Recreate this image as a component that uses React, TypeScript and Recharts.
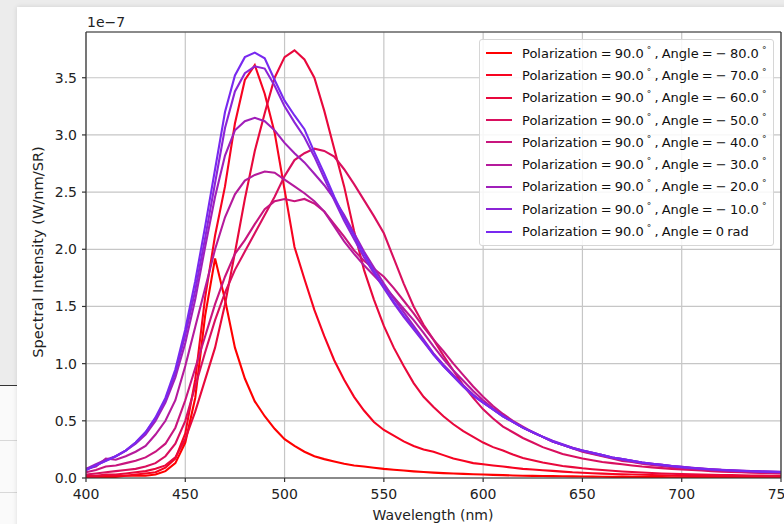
import { CartesianGrid, Line, LineChart, ReferenceLine, XAxis, YAxis } from "recharts";

// wavelength grid (nm)
const WL = [
  400, 405, 410, 415, 420, 425, 430, 435, 440, 445, 450, 455, 460, 465, 470, 475, 480, 485, 490, 495,
  500, 505, 510, 515, 520, 525, 530, 535, 540, 545, 550, 555, 560, 565, 570, 575, 580, 585, 590, 595,
  600, 605, 610, 615, 620, 625, 630, 635, 640, 645, 650, 655, 660, 665, 670, 675, 680, 685, 690, 695,
  700, 705, 710, 715, 720, 725, 730, 735, 740, 745, 750,
];

// spectral intensity, units of 1e-7 W/nm/SR
const A80 = [
  0.0, 0.01, 0.01, 0.01, 0.02, 0.02, 0.02, 0.03, 0.06, 0.13, 0.31, 0.7, 1.42, 1.92, 1.56, 1.14, 0.87, 0.67, 0.54, 0.43,
  0.34, 0.28, 0.23, 0.19, 0.165, 0.145, 0.125, 0.11, 0.1, 0.09, 0.08, 0.072, 0.065, 0.058, 0.052, 0.047, 0.043, 0.04, 0.036, 0.033,
  0.03, 0.027, 0.025, 0.022, 0.02, 0.019, 0.017, 0.016, 0.015, 0.014, 0.013, 0.012, 0.011, 0.01, 0.01, 0.009, 0.009, 0.008, 0.008, 0.007,
  0.007, 0.006, 0.006, 0.006, 0.005, 0.005, 0.005, 0.005, 0.004, 0.004, 0.004,
];
const A70 = [
  0.01, 0.01, 0.02, 0.02, 0.02, 0.03, 0.04, 0.05, 0.09, 0.17, 0.39, 0.86, 1.58, 2.12, 2.55, 3.1, 3.48, 3.61, 3.36, 3.02,
  2.52, 2.02, 1.74, 1.47, 1.24, 1.03, 0.86, 0.71, 0.59, 0.49, 0.42, 0.37, 0.32, 0.28, 0.25, 0.23, 0.2, 0.17, 0.15, 0.13,
  0.12, 0.11, 0.1, 0.09, 0.08, 0.075, 0.068, 0.062, 0.056, 0.05, 0.046, 0.042, 0.038, 0.035, 0.032, 0.03, 0.028, 0.026, 0.024, 0.022,
  0.02, 0.019, 0.018, 0.017, 0.016, 0.015, 0.014, 0.013, 0.013, 0.012, 0.012,
];
const A60 = [
  0.02, 0.02, 0.03, 0.03, 0.04, 0.05, 0.06, 0.08, 0.11, 0.18, 0.34, 0.58, 0.86, 1.14, 1.52, 1.97, 2.44, 2.86, 3.19, 3.5,
  3.68, 3.74, 3.66, 3.5, 3.21, 2.88, 2.55, 2.16, 1.82, 1.56, 1.33, 1.14, 0.98, 0.83, 0.71, 0.62, 0.54, 0.47, 0.41, 0.36,
  0.31, 0.27, 0.24, 0.205, 0.175, 0.155, 0.135, 0.12, 0.105, 0.095, 0.085, 0.077, 0.07, 0.063, 0.057, 0.052, 0.048, 0.044, 0.04, 0.037,
  0.034, 0.032, 0.03, 0.028, 0.026, 0.025, 0.024, 0.022, 0.021, 0.02, 0.02,
];
const A50 = [
  0.03, 0.04, 0.05, 0.06, 0.07, 0.08, 0.1, 0.13, 0.19, 0.3, 0.5, 0.8, 1.1, 1.38, 1.62, 1.82, 1.98, 2.14, 2.3, 2.46,
  2.64, 2.78, 2.84, 2.88, 2.86, 2.81, 2.7, 2.57, 2.43, 2.29, 2.14, 1.92, 1.7, 1.5, 1.34, 1.21, 1.07, 0.94, 0.81, 0.7,
  0.6, 0.52, 0.45, 0.4, 0.35, 0.31, 0.27, 0.24, 0.21, 0.19, 0.17, 0.155, 0.14, 0.13, 0.12, 0.11, 0.1, 0.093, 0.086, 0.08,
  0.075, 0.07, 0.065, 0.06, 0.056, 0.052, 0.05, 0.047, 0.045, 0.042, 0.04,
];
const A40 = [
  0.05, 0.07, 0.1, 0.11, 0.13, 0.15, 0.18, 0.23, 0.3, 0.44, 0.68, 0.96, 1.24, 1.52, 1.76, 1.96, 2.08, 2.22, 2.35, 2.42,
  2.44, 2.42, 2.44, 2.4, 2.33, 2.22, 2.11, 1.99, 1.9, 1.83, 1.76, 1.66, 1.55, 1.44, 1.32, 1.21, 1.11, 1.0, 0.9, 0.8,
  0.71, 0.63, 0.56, 0.5, 0.45, 0.4, 0.36, 0.32, 0.29, 0.26, 0.23, 0.21, 0.19, 0.17, 0.15, 0.14, 0.125, 0.115, 0.105, 0.095,
  0.088, 0.08, 0.074, 0.069, 0.064, 0.06, 0.057, 0.054, 0.051, 0.049, 0.047,
];
const A30 = [
  0.08, 0.1, 0.17, 0.16, 0.19, 0.23, 0.28, 0.38, 0.5, 0.68, 0.98, 1.32, 1.66, 2.0, 2.28, 2.48, 2.6, 2.65, 2.68, 2.67,
  2.61, 2.55, 2.49, 2.42, 2.33, 2.2, 2.07, 1.96, 1.86, 1.77, 1.68, 1.58, 1.48, 1.38, 1.27, 1.15, 1.04, 0.94, 0.85, 0.76,
  0.68, 0.61, 0.55, 0.49, 0.44, 0.4, 0.36, 0.32, 0.29, 0.26, 0.235, 0.215, 0.195, 0.175, 0.16, 0.145, 0.13, 0.12, 0.11, 0.1,
  0.092, 0.085, 0.078, 0.072, 0.067, 0.063, 0.059, 0.056, 0.053, 0.05, 0.048,
];
const A20 = [
  0.08, 0.12, 0.16, 0.19, 0.24, 0.3, 0.38, 0.5, 0.66, 0.88, 1.18, 1.56, 2.02, 2.46, 2.82, 3.04, 3.12, 3.15, 3.12, 3.04,
  2.93, 2.84, 2.76, 2.66, 2.56, 2.44, 2.3, 2.14, 1.98, 1.84, 1.7, 1.57, 1.45, 1.33, 1.21, 1.09, 0.99, 0.9, 0.81, 0.73,
  0.66, 0.6, 0.54, 0.49, 0.44, 0.4, 0.36, 0.32, 0.29, 0.265, 0.24, 0.22, 0.2, 0.18, 0.165, 0.15, 0.135, 0.125, 0.115, 0.105,
  0.097, 0.09, 0.083, 0.077, 0.071, 0.067, 0.063, 0.06, 0.057, 0.055, 0.053,
];
const A10 = [
  0.07, 0.11, 0.15, 0.19, 0.24, 0.31, 0.4, 0.52, 0.68, 0.92, 1.25, 1.64, 2.1, 2.58, 3.06, 3.38, 3.54, 3.6, 3.58, 3.43,
  3.25, 3.11, 2.98, 2.81, 2.62, 2.43, 2.25, 2.09, 1.93, 1.79, 1.66, 1.53, 1.41, 1.3, 1.19, 1.08, 0.98, 0.89, 0.8, 0.72,
  0.66, 0.6, 0.54, 0.49, 0.44, 0.4, 0.36, 0.325, 0.295, 0.265, 0.24, 0.22, 0.2, 0.18, 0.165, 0.15, 0.135, 0.125, 0.115, 0.105,
  0.097, 0.09, 0.083, 0.077, 0.072, 0.068, 0.064, 0.061, 0.058, 0.056, 0.054,
];
const A0 = [
  0.07, 0.11, 0.15, 0.19, 0.24, 0.31, 0.4, 0.53, 0.7, 0.95, 1.3, 1.72, 2.2, 2.7, 3.2, 3.52, 3.68, 3.72, 3.67, 3.48,
  3.3, 3.17, 3.05, 2.85, 2.66, 2.46, 2.28, 2.12, 1.96, 1.81, 1.67, 1.54, 1.42, 1.31, 1.2, 1.08, 0.98, 0.89, 0.8, 0.72,
  0.66, 0.6, 0.54, 0.49, 0.44, 0.4, 0.36, 0.32, 0.29, 0.26, 0.24, 0.22, 0.2, 0.18, 0.165, 0.15, 0.135, 0.125, 0.115, 0.105,
  0.095, 0.088, 0.081, 0.075, 0.07, 0.066, 0.062, 0.059, 0.056, 0.054, 0.052,
];

const SERIES_VALUES = [A80, A70, A60, A50, A40, A30, A20, A10, A0];
const ANGLES = ["\u2212 80.0", "\u2212 70.0", "\u2212 60.0", "\u2212 50.0", "\u2212 40.0", "\u2212 30.0", "\u2212 20.0", "\u2212 10.0", "0"];
const COLORS = ["#ff0000", "#f70320", "#e8083c", "#d90f5e", "#c8157e", "#b51a9c", "#a01fba", "#8c24d6", "#7829f0"];

const X_TICKS = [400, 450, 500, 550, 600, 650, 700, 750];
const Y_TICKS = [0, 0.5, 1, 1.5, 2, 2.5, 3, 3.5];

const FONT = "'DejaVu Sans', sans-serif";
const SPINE = "#333";

const data = WL.map((wl, i) => {
  const row: Record<string, number> = { wl };
  SERIES_VALUES.forEach((s, k) => {
    row["s" + k] = s[i];
  });
  return row;
});

const deg = <span style={{ fontSize: 9, position: "relative", top: -5 }}>°</span>;

function LegendBox() {
  return (
    <div
      style={{
        position: "absolute",
        left: 479,
        top: 39,
        width: 295,
        height: 207,
        boxSizing: "border-box",
        border: "1px solid #d6d6d6",
        borderRadius: 3,
        background: "rgba(255,255,255,0.85)",
        fontFamily: FONT,
        fontSize: 13,
        color: "#111",
        paddingTop: 2,
      }}
    >
      {ANGLES.map((a, i) => {
        const last = i === ANGLES.length - 1;
        return (
          <div key={i} style={{ display: "flex", alignItems: "center", height: 22.3, whiteSpace: "nowrap" }}>
            <div style={{ flex: "0 0 26px", height: 2, background: COLORS[i], marginLeft: 6, marginRight: 10 }} />
            <span style={{ flex: "0 0 auto", wordSpacing: -1 }}>
              Polarization = 90.0 {deg} , Angle = {a}
              {last ? " rad" : " "}
              {last ? null : deg}
            </span>
          </div>
        );
      })}
    </div>
  );
}

export default function App() {
  return (
    <div
      style={{
        position: "fixed",
        left: 0,
        top: 0,
        width: 784,
        height: 524,
        overflow: "hidden",
        background: "#ececec",
      }}
    >
      {/* window behind, left edge */}
      <div style={{ position: "absolute", left: 0, top: 385, width: 17, height: 139, background: "#fafafa", borderTop: "1px solid #333" }} />
      <div style={{ position: "absolute", left: 0, top: 440, width: 17, height: 1, background: "#d8d8d8" }} />
      <div style={{ position: "absolute", left: 0, top: 492, width: 17, height: 1, background: "#d8d8d8" }} />
      {/* figure panel */}
      <div
        style={{
          position: "absolute",
          left: 17,
          top: 7,
          width: 780,
          height: 530,
          background: "#fff",
          boxShadow: "0 0 5px rgba(0,0,0,0.12)",
        }}
      />
      <div style={{ position: "absolute", left: 0, top: 0 }}>
        <LineChart width={800} height={524} data={data} margin={{ top: 32, right: 19, bottom: 16, left: 0 }}>
          <CartesianGrid stroke="#c6c6c6" strokeWidth={1.2} />
          <XAxis
            type="number"
            dataKey="wl"
            domain={[400, 750]}
            ticks={X_TICKS}
            allowDataOverflow
            height={30}
            tickSize={4}
            tickMargin={7}
            stroke={SPINE}
            strokeWidth={1.2}
            tick={{ fill: "#222", fontSize: 14, fontFamily: FONT }}
          />
          <YAxis
            type="number"
            domain={[0, 3.9]}
            ticks={Y_TICKS}
            allowDataOverflow
            width={86}
            tickSize={4}
            tickMargin={5}
            stroke={SPINE}
            strokeWidth={1.2}
            tickFormatter={(v: number) => v.toFixed(1)}
            tick={{ fill: "#222", fontSize: 14, fontFamily: FONT }}
          />
          {SERIES_VALUES.map((_, k) => (
            <Line
              key={k}
              type="linear"
              dataKey={"s" + k}
              stroke={COLORS[k]}
              strokeWidth={2.1}
              dot={false}
              activeDot={false}
              isAnimationActive={false}
            />
          ))}
          <ReferenceLine y={3.9} stroke={SPINE} strokeWidth={1.2} />
          <ReferenceLine x={750} stroke={SPINE} strokeWidth={1.2} />
        </LineChart>
      </div>
      <LegendBox />
      <div style={{ position: "absolute", left: 87, top: 14, fontFamily: FONT, fontSize: 14, color: "#222" }}>1e{"\u2212"}7</div>
      <div
        style={{
          position: "absolute",
          left: 37,
          top: 252,
          transform: "translate(-50%, -50%) rotate(-90deg)",
          fontFamily: FONT,
          fontSize: 14.6,
          color: "#222",
          whiteSpace: "nowrap",
        }}
      >
        Spectral Intensity (W/nm/SR)
      </div>
      <div
        style={{
          position: "absolute",
          left: 433,
          top: 515,
          transform: "translate(-50%, -50%)",
          fontFamily: FONT,
          fontSize: 14,
          color: "#222",
          whiteSpace: "nowrap",
        }}
      >
        Wavelength (nm)
      </div>
    </div>
  );
}
